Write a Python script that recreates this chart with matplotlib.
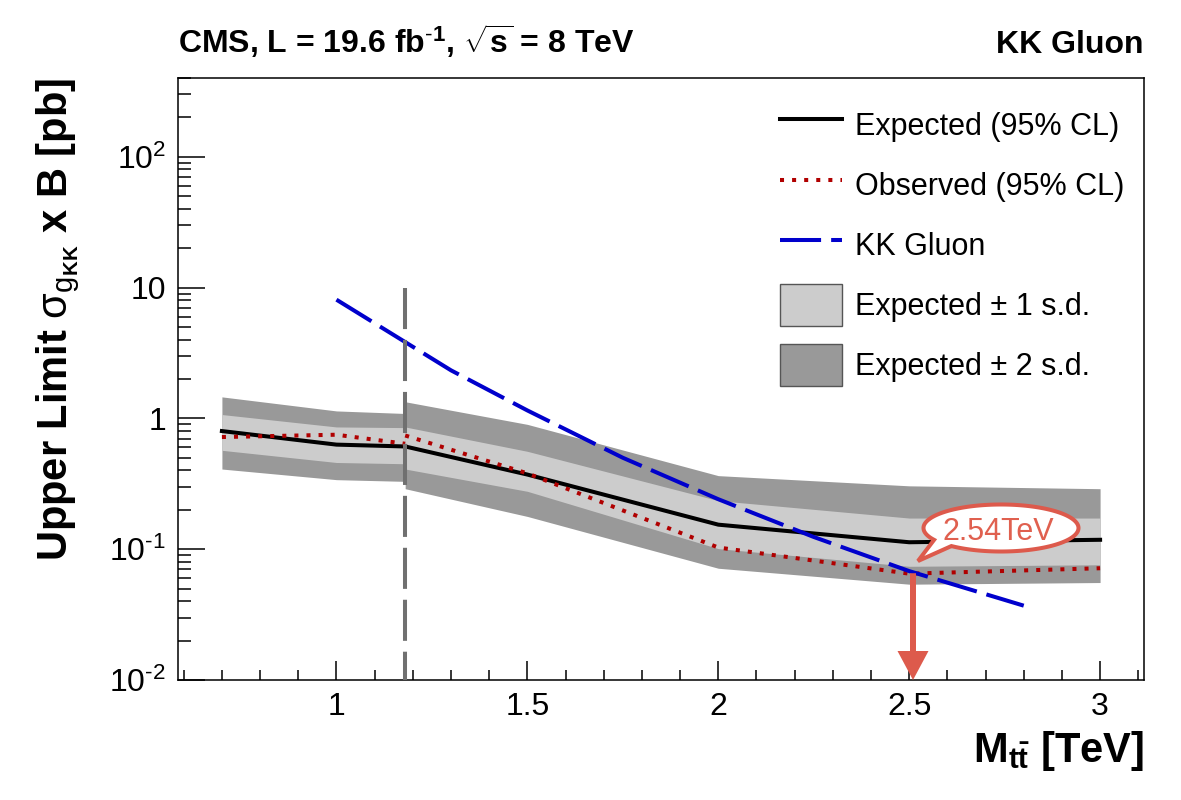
import matplotlib
matplotlib.use('Agg')
import matplotlib.pyplot as plt
import numpy as np
import matplotlib.ticker as mticker
from matplotlib.patches import Polygon, FancyArrow, Patch
from matplotlib.lines import Line2D
from matplotlib.transforms import IdentityTransform

plt.rcParams['font.family'] = ['Liberation Sans', 'DejaVu Sans']
plt.rcParams['mathtext.fontset'] = 'custom'
plt.rcParams['mathtext.rm'] = 'Liberation Sans'
plt.rcParams['mathtext.it'] = 'Liberation Sans:italic'
plt.rcParams['mathtext.bf'] = 'Liberation Sans:bold'
plt.rcParams['mathtext.sf'] = 'Liberation Sans'

# ---------------- data ----------------
mass_low = [0.7, 1.0, 1.18]
exp_low = [0.80, 0.63, 0.61]
obs_low = [0.72, 0.75, 0.64]
p1_low = [1.07, 0.86, 0.85]
m1_low = [0.57, 0.46, 0.45]
p2_low = [1.46, 1.14, 1.09]
m2_low = [0.41, 0.34, 0.33]

mass_high = [1.18, 1.5, 2.0, 2.5, 3.0]
exp_high = [0.61, 0.372, 0.154, 0.113, 0.118]
obs_high = [0.74, 0.38, 0.103, 0.065, 0.0715]
p1_high = [0.86, 0.56, 0.235, 0.173, 0.173]
m1_high = [0.41, 0.277, 0.101, 0.074, 0.076]
p2_high = [1.34, 0.90, 0.365, 0.305, 0.29]
m2_high = [0.29, 0.178, 0.0715, 0.054, 0.0556]

kk_mass = [1.0, 1.3, 1.5, 1.75, 2.0, 2.25, 2.5, 2.8]
kk_xsec = [8.08, 2.33, 1.15, 0.50, 0.241, 0.124, 0.068, 0.037]

switch_mass = 1.18
switch_top = 10.0
limit_mass = 2.51
limit_top = 0.0655
limit_label = "2.54TeV"

x_ticks = [1.0, 1.5, 2.0, 2.5, 3.0]
x_ticklabels = ['1', '1.5', '2', '2.5', '3']
y_ticks = [0.01, 0.1, 1, 10, 100]
y_ticklabels = [r'$10^{\text{-}2}$', r'$10^{\text{-}1}$', '1', '10', r'$10^{2}$']

legend_labels = ['Expected (95% CL)', 'Observed (95% CL)', 'KK Gluon',
                 'Expected \u00b1 1 s.d.', 'Expected \u00b1 2 s.d.']

# ---------------- styles ----------------
C_LIGHT = '#cccccc'
C_DARK = '#999999'
C_OBS = '#b00000'
C_KK = '#0000cc'
C_SWITCH = '#707070'
C_ANN = '#dd5a4c'

W, H = 1181, 800
fig = plt.figure(figsize=(W / 100, H / 100), dpi=100)
L, R, T, B = 178, 1144, 78, 680
ax = fig.add_axes([L / W, (H - B) / H, (R - L) / W, (B - T) / H])

ax.set_yscale('log')
ax.set_xlim(0.585, 3.115)
ax.set_ylim(0.01, 400)

for xs, m2, p2, m1, p1 in [(mass_low, m2_low, p2_low, m1_low, p1_low),
                           (mass_high, m2_high, p2_high, m1_high, p1_high)]:
    ax.fill_between(xs, m2, p2, color=C_DARK, lw=0, zorder=1)
    ax.fill_between(xs, m1, p1, color=C_LIGHT, lw=0, zorder=2)

lw = 2.9
for xs, e, o in [(mass_low, exp_low, obs_low), (mass_high, exp_high, obs_high)]:
    ax.plot(xs, e, color='black', lw=lw, zorder=3, solid_joinstyle='round')
    ax.plot(xs, o, color=C_OBS, lw=lw, ls=(0, (1.0, 2.0)), dash_capstyle='butt', zorder=3.5)

ax.plot(kk_mass, kk_xsec, color=C_KK, lw=lw, ls=(0, (10.2, 2.5)), dash_capstyle='butt', zorder=4)
ax.plot([switch_mass, switch_mass], [switch_top, 0.01], color=C_SWITCH, lw=lw,
        ls=(0, (10.2, 2.7)), dash_capstyle='butt', zorder=5)

# axes styling
for s in ax.spines.values():
    s.set_linewidth(1.1)
ax.set_xticks(x_ticks)
ax.set_xticklabels(x_ticklabels)
ax.xaxis.set_minor_locator(mticker.MultipleLocator(0.1))
ax.set_yticks(y_ticks)
ax.set_yticklabels(y_ticklabels)
ax.yaxis.set_minor_locator(mticker.LogLocator(base=10, subs=np.arange(2, 10), numticks=20))
ax.yaxis.set_minor_formatter(mticker.NullFormatter())
ax.tick_params(which='both', direction='in', top=False, right=False, width=1.1, labelsize=23)
ax.tick_params(axis='y', which='major', length=19.4, pad=8.6)
ax.tick_params(axis='y', which='minor', length=9.4)
ax.tick_params(axis='x', which='major', length=13.7, pad=8.4)
ax.tick_params(axis='x', which='minor', length=7.2)

# legend
handles = [Line2D([], [], color='black', lw=lw),
           Line2D([], [], color=C_OBS, lw=lw, ls=(0, (1.0, 2.0)), dash_capstyle='butt'),
           Line2D([], [], color=C_KK, lw=lw, ls=(0, (10.2, 2.5)), dash_capstyle='butt'),
           Patch(facecolor=C_LIGHT, edgecolor='#555555', lw=1),
           Patch(facecolor=C_DARK, edgecolor='#555555', lw=1)]
ax.legend(handles, legend_labels, loc='upper left', bbox_to_anchor=(780 / W, 1 - 104 / H),
          bbox_transform=fig.transFigure, frameon=False, fontsize=22, borderpad=0,
          borderaxespad=0, handlelength=2.03, handleheight=1.74, handletextpad=0.44,
          labelspacing=0.59)

# titles and labels
fig.text(L / W, 1 - 53 / H, r'CMS, L = 19.6 fb$^{\mathbf{\text{-}1}}$, $\sqrt{\mathbf{s}}$ = 8 TeV',
         fontsize=23, fontweight='bold', ha='left', va='baseline')
fig.text(R / W, 1 - 53 / H, 'KK Gluon', fontsize=23, fontweight='bold', ha='right', va='baseline')
fig.text(R / W, 1 - 762 / H, r'$\mathbf{M_{t\bar{t}}}$ [TeV]', fontsize=30, fontweight='bold',
         ha='right', va='baseline')
fig.text(67 / W, 1 - T / H, r'Upper Limit $\mathrm{\sigma}_{\mathrm{g}_{\mathbf{KK}}}$ x B [pb]',
         fontsize=30, fontweight='bold', rotation=90, rotation_mode='anchor',
         ha='right', va='baseline')

# limit arrow
x0, y0 = ax.transData.transform((limit_mass, limit_top))
_, y1 = ax.transData.transform((limit_mass, 0.01))
arrow = FancyArrow(x0, y0, 0, y1 - y0, width=6, head_width=31, head_length=29,
                   length_includes_head=True, transform=IdentityTransform(),
                   color=C_ANN, lw=0, zorder=7)
fig.add_artist(arrow)

# speech bubble (pixel coordinates of the image, y downward)
cx, cy, a, b = 1001, 528, 77.5, 23.5
th = np.radians(np.linspace(-129.8, 210.3, 200))
bx = cx + a * np.cos(th)
by = (H - cy) + b * np.sin(th)
tip = (918, H - 561)
pts = np.column_stack([np.append(bx, tip[0]), np.append(by, tip[1])])
bubble = Polygon(pts, closed=True, facecolor='white', edgecolor=C_ANN, lw=2.9,
                 joinstyle='miter', transform=IdentityTransform(), zorder=8)
fig.add_artist(bubble)
fig.text(998 / W, 1 - 528 / H, limit_label, fontsize=22, color='#e0604f',
         ha='center', va='center_baseline', zorder=9)

fig.savefig('out.png', dpi=100)
